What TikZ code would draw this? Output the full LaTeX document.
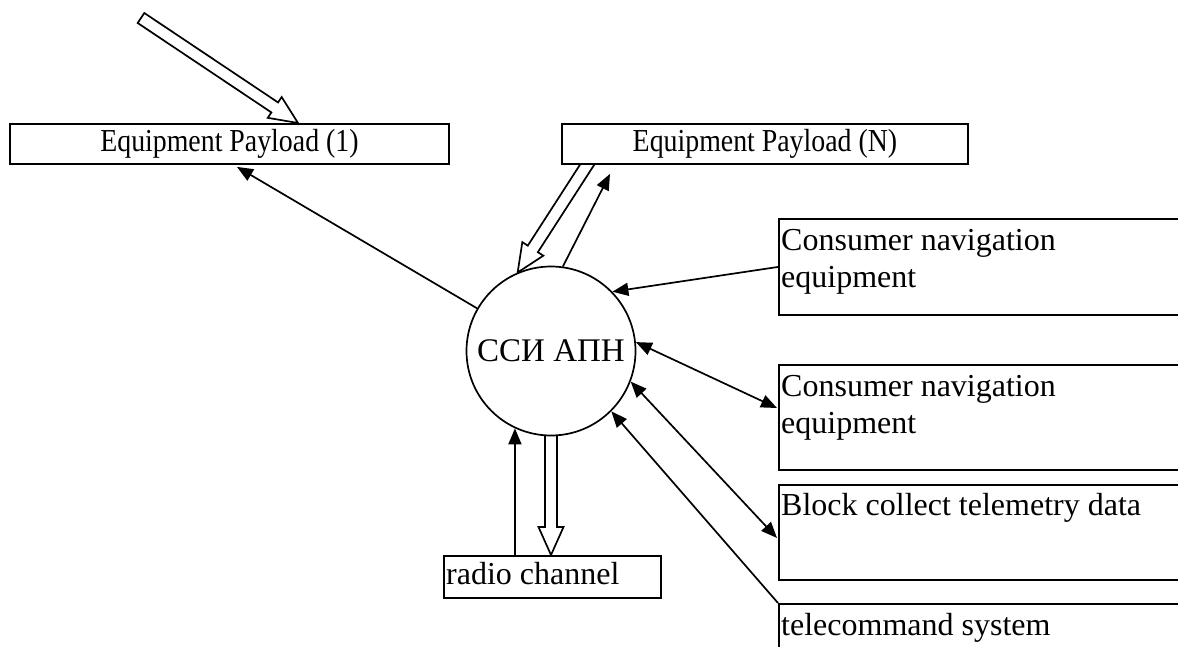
\documentclass[tikz,border=0pt]{standalone}
\usepackage{fontspec}
\setmainfont{Liberation Serif}
\newfontfamily\narrowserif[FakeStretch=0.87]{Liberation Serif}
\usetikzlibrary{arrows.meta,calc,backgrounds}

\tikzset{
  box/.style={draw, line width=1.9pt, fill=white, anchor=north west, inner sep=0pt},
  lbl/.style={anchor=base west, inner sep=0pt, font=\fontsize{32}{37}\selectfont},
  toplbl/.style={font=\narrowserif\fontsize{32}{36}\selectfont},
  link/.style={line width=1.7pt},
  fat/.style={draw, line width=1.7pt, fill=white, line join=miter},
  tip/.tip={Triangle[length=16pt,width=13pt]},
}

% wide outlined arrow: #1 = tail point, #2 = tip point
\newcommand\hollowarrow[2]{%
  \coordinate (hb) at ($(#2)!28pt!(#1)$);
  \path[fat] ($(#1)!6pt!90:(#2)$) -- ($(hb)!6pt!90:(#2)$) -- ($(hb)!12.5pt!90:(#2)$)
    -- (#2) -- ($(hb)!12.5pt!-90:(#2)$) -- ($(hb)!6pt!-90:(#2)$)
    -- ($(#1)!6pt!-90:(#2)$) -- cycle;
}

\begin{document}
\begin{tikzpicture}[x=1pt, y=-1pt]
\clip (0,0) rectangle (1178,646);

% payload blocks
\node[box, minimum width=439pt, minimum height=40pt, toplbl]
  (ep1) at (9,123) {Equipment Payload (1)};
\node[box, minimum width=406pt, minimum height=40pt, toplbl]
  (epn) at (561,123) {Equipment Payload (N)};

% central unit
\node[draw, circle, line width=1.7pt, fill=white, minimum size=169pt, inner sep=0pt,
  font=\fontsize{33}{37}\selectfont] (circ) at (551,351) {ССИ АПН};

% right-hand blocks
\node[box, minimum width=430pt, minimum height=96pt]  (cn1) at (778,218) {};
\node[box, minimum width=430pt, minimum height=105pt] (cn2) at (778,364) {};
\node[box, minimum width=430pt, minimum height=95pt]  (blk) at (778,484) {};
\node[box, minimum width=430pt, minimum height=80pt]  (tel) at (778,603) {};
\node[box, minimum width=217pt, minimum height=42pt]  (radio) at (443,555) {};

\node[lbl] (cn1a) at ($(cn1.north west)+(3,32)$) {Consumer navigation};
\node[lbl] (cn1b) at ($(cn1.north west)+(3,69)$) {equipment};
\node[lbl] (cn2a) at ($(cn2.north west)+(3,32)$) {Consumer navigation};
\node[lbl] (cn2b) at ($(cn2.north west)+(3,69)$) {equipment};
\node[lbl] (blka) at ($(blk.north west)+(3,31)$) {Block collect telemetry data};
\node[lbl] (tela) at ($(tel.north west)+(3,32)$) {telecommand system};
\node[lbl] (radioa) at ($(radio.north west)+(3,29)$) {radio channel};

% outlined flow arrows
\coordinate (src) at (141,18);
\coordinate (ep1in) at ($(ep1.north west)+(289,0)$);
\coordinate (epnout0) at ($(epn.south west)+(26,0)$);
\coordinate (epnout) at ($(epnout0)!-12pt!(circ.113)$);
\coordinate (cout) at ($(circ.south)+(0,-10)$);
\coordinate (rin) at (circ.south |- radio.north);
\begin{scope}[on background layer]
  \hollowarrow{src}{ep1in}
  \hollowarrow{epnout}{circ.113}
  \hollowarrow{cout}{rin}
\end{scope}

% signal links
\draw[link,-tip] (circ.150) -- ($(ep1.south west)+(228,2)$);
\draw[link,-tip] (circ.82) -- ($(epn.south west)+(49,9)$);
\draw[link,-tip] (cn1.west) -- (circ.44);
\draw[link,tip-tip] (circ.6) -- ($(cn2.north west)+(-1,44)$);
\draw[link,tip-tip] (circ.-21) -- ($(blk.north west)+(-1,54)$);
\draw[link,-tip] (tel.north west) -- (circ.-45);
\draw[link,-tip] (circ.-115 |- radio.north) -- (circ.-115);
\end{tikzpicture}
\end{document}
